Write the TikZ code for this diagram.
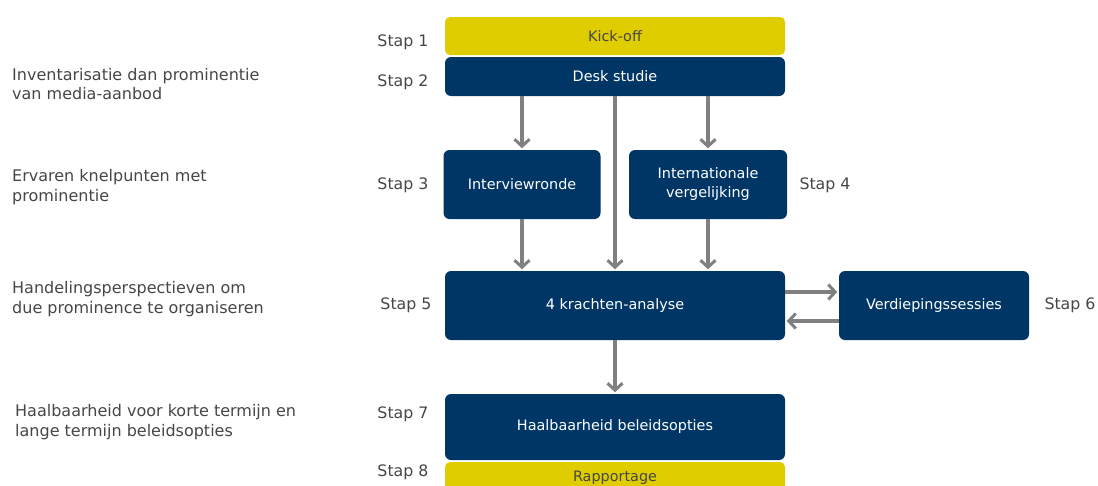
\documentclass[tikz,border=0pt]{standalone}
\usepackage{fontspec}
\setmainfont{DejaVu Sans}
\usetikzlibrary{positioning,calc,arrows.meta}

\definecolor{navy}{RGB}{0,54,101}
\definecolor{geel}{RGB}{224,205,0}
\definecolor{pijl}{RGB}{128,128,128}
\definecolor{tekst}{RGB}{70,70,70}

\begin{document}
\begin{tikzpicture}[x=1pt,y=-1pt,
    navybox/.style={fill=navy,rounded corners=6pt,text=white,align=center,
        font=\fontsize{14.4}{19}\selectfont,inner sep=0pt},
    geelbox/.style={fill=geel,rounded corners=5pt,text=tekst,align=center,
        font=\fontsize{14.4}{19}\selectfont,inner sep=0pt},
    staplabel/.style={text=tekst,font=\fontsize{15.8}{19}\selectfont,inner sep=0pt},
    uitleg/.style={text=tekst,font=\fontsize{16}{19.5}\selectfont,align=left,
        anchor=west,inner sep=0pt},
    flow/.style={draw=pijl,line width=3.5pt,shorten >=1.5pt,
        -{Straight Barb[length=7pt,width=15pt,line width=3pt]}}]
     \useasboundingbox (0,0) rectangle (1098,485);

     % de stappen
     \node[geelbox,minimum width=340pt,minimum height=38pt] (kick) at (615,36) {Kick-off};
     \node[navybox,minimum width=340pt,minimum height=39pt] (desk) at (615,76.5) {Desk studie};
     \node[navybox,minimum width=157pt,minimum height=69pt] (intv) at (522,184.5) {Interviewronde};
     \node[navybox,minimum width=158pt,minimum height=69pt] (intl) at (708,184.5) {Internationale\\vergelijking};
     \node[navybox,minimum width=340pt,minimum height=69pt] (kracht) at (615,305.5) {4 krachten-analyse};
     \node[navybox,minimum width=190pt,minimum height=69pt] (verd) at (934,305.5) {Verdiepingssessies};
     \node[navybox,minimum width=340pt,minimum height=66pt] (haalb) at (615,427) {Haalbaarheid beleidsopties};
     \node[geelbox,minimum width=340pt,minimum height=36pt,text depth=0pt] (rapp) at (615,480) {};
     \node[text=tekst,font=\fontsize{14.4}{19}\selectfont,inner sep=0pt] (rapptxt) at (615,478) {Rapportage};

     % stap nummers
     \node[staplabel] (s1) at (403,42) {Stap 1};
     \node[staplabel] (s2) at (403,82) {Stap 2};
     \node[staplabel] (s3) at (403,185) {Stap 3};
     \node[staplabel] (s4) at (825,185) {Stap 4};
     \node[staplabel] (s5) at (406,305) {Stap 5};
     \node[staplabel] (s6) at (1070,305) {Stap 6};
     \node[staplabel] (s7) at (403,414) {Stap 7};
     \node[staplabel] (s8) at (403,472) {Stap 8};

     % toelichting links
     \node[uitleg] (u1) at (12,84) {Inventarisatie dan prominentie\\van media-aanbod};
     \node[uitleg] (u2) at (12,187) {Ervaren knelpunten met\\prominentie};
     \node[uitleg] (u3) at (12,299) {Handelingsperspectieven om\\due prominence te organiseren};
     \node[uitleg] (u4) at (15,422) {Haalbaarheid voor korte termijn en\\lange termijn beleidsopties};

     % pijlen
     \draw[flow] (desk.south -| intv) -- (intv.north);
     \draw[flow] (desk.south -| intl) -- (intl.north);
     \draw[flow] (desk.south) -- (kracht.north);
     \draw[flow] (intv.south) -- (kracht.north -| intv);
     \draw[flow] (intl.south) -- (kracht.north -| intl);
     \draw[flow] ([yshift=13.5pt]kracht.east) -- ([yshift=13.5pt]verd.west);
     \draw[flow] ([yshift=-15.5pt]verd.west) -- ([yshift=-15.5pt]kracht.east);
     \draw[flow] (kracht.south) -- (haalb.north);
\end{tikzpicture}
\end{document}
